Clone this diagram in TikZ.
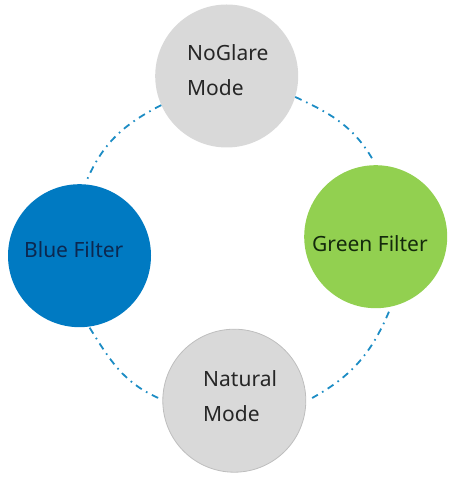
\documentclass[tikz,border=0pt]{standalone}
\usepackage{fontspec}
\setmainfont{Noto Sans}
\begin{document}
\begin{tikzpicture}[x=1pt,y=1pt,
  bubble/.style={circle,minimum size=143pt,inner sep=0pt},
  lbl/.style={anchor=base west,inner sep=0pt,align=left,font=\fontsize{21}{35}\selectfont},
  link/.style={draw=linkc,line width=1.8pt,dash pattern=on 7pt off 5pt on 1.6pt off 5pt}]
\definecolor{grayc}{RGB}{217,217,217}
\definecolor{bluec}{RGB}{0,122,194}
\definecolor{greenc}{RGB}{146,208,80}
\definecolor{linkc}{RGB}{28,140,196}
\definecolor{txtc}{RGB}{38,38,38}
\definecolor{btxt}{RGB}{12,40,80}
\definecolor{gtxt}{RGB}{20,42,12}
\useasboundingbox (0,0) rectangle (458,482);
\node[bubble,fill=grayc] (noglare) at (226.7,406) {};
\node[bubble,fill=bluec] (blue) at (79.5,226.3) {};
\node[bubble,fill=greenc] (green) at (375.7,245.3) {};
\node[bubble,fill=grayc,draw={rgb,255:red,190;green,190;blue,190},line width=0.8pt] (natural) at (234.3,81.3) {};
\draw[link] (noglare.204) to[out=207,in=67] ([shift={(85:2)}]blue.85);
\draw[link] (noglare.343) to[out=-25,in=120] ([shift={(92:5)}]green.92);
\draw[link] ([shift={(280:4.5)}]green.280) to[out=247,in=29] ([shift={(2:6)}]natural.2);
\draw[link] ([shift={(278:1)}]blue.278) to[out=302,in=156] ([shift={(178:4)}]natural.178);
\node[lbl,text=txtc] (t1) at (187,386) {NoGlare\\Mode};
\node[lbl,text=txtc] (t4) at (203,60.5) {Natural\\Mode};
\node[lbl,text=btxt] (t2) at (24,224.3) {Blue Filter};
\node[lbl,text=gtxt] (t3) at (312,230.3) {Green Filter};
\end{tikzpicture}
\end{document}
